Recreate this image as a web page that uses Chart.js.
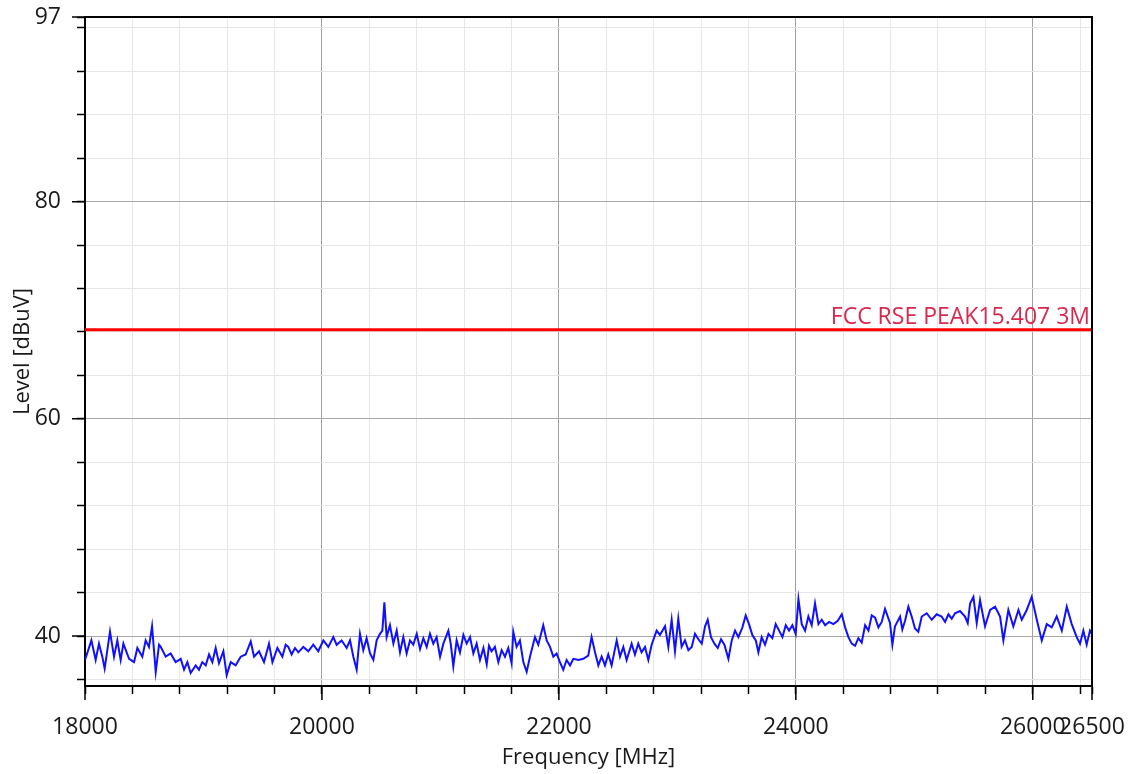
<!DOCTYPE html>
<html><head><meta charset="utf-8">
<script src="https://cdn.jsdelivr.net/npm/chart.js@4.4.0/dist/chart.umd.min.js"></script>
<style>html,body{margin:0;padding:0;background:#fff;} #wrap{width:1132px;height:774px;}</style>
</head><body><div id="wrap"><canvas id="c" width="1132" height="774"></canvas></div>
<script>
const freqs = [
18000,18054,18090,18118,18146,18166,18211,18245,18273,18301,18324,18372,18414,18442,18484,18512,18540,18566,18597,18625,
18639,18681,18723,18765,18808,18836,18864,18892,18934,18962,18990,19019,19047,19075,19103,19131,19168,19196,19230,19272,
19314,19356,19399,19427,19469,19511,19553,19582,19624,19666,19694,19716,19744,19772,19801,19843,19885,19927,19969,20012,
20054,20096,20124,20166,20209,20237,20265,20293,20321,20349,20377,20406,20434,20462,20490,20510,20527,20546,20574,20603,
20631,20659,20687,20715,20743,20771,20800,20828,20856,20884,20912,20940,20968,20997,21025,21067,21087,21109,21137,21165,
21194,21222,21250,21278,21306,21334,21363,21391,21410,21432,21460,21489,21517,21545,21573,21601,21615,21643,21671,21700,
21728,21756,21798,21826,21868,21897,21925,21953,21981,22009,22037,22065,22094,22122,22164,22206,22248,22276,22305,22333,
22361,22389,22417,22445,22488,22516,22544,22572,22614,22642,22670,22698,22727,22755,22783,22825,22853,22896,22924,22952,
22980,23008,23036,23064,23093,23121,23149,23178,23206,23234,23256,23284,23313,23341,23369,23397,23431,23459,23487,23515,
23549,23577,23605,23633,23662,23684,23712,23740,23769,23802,23830,23859,23887,23915,23943,23971,23999,24022,24050,24078,
24106,24134,24162,24191,24219,24247,24281,24317,24354,24388,24416,24444,24472,24500,24528,24556,24585,24613,24641,24669,
24697,24725,24753,24795,24815,24837,24880,24899,24922,24950,24978,25006,25034,25063,25105,25147,25189,25231,25260,25288,
25316,25344,25386,25428,25451,25471,25499,25527,25555,25597,25640,25682,25724,25752,25794,25836,25879,25907,25949,25991,
26034,26076,26118,26160,26202,26245,26287,26329,26371,26399,26427,26455,26483,26500
];
const levels = [
37.8,39.6,37.8,39.3,38.1,37.0,40.4,38.1,39.6,37.8,39.3,37.9,37.6,38.9,38.1,39.6,39.0,40.9,36.7,39.2,
39.0,38.1,38.4,37.6,37.9,36.9,37.6,36.6,37.3,36.9,37.6,37.3,38.3,37.6,38.9,37.5,38.6,36.4,37.6,37.3,
38.1,38.3,39.5,38.1,38.6,37.6,39.3,37.6,38.9,38.1,39.2,39.0,38.3,38.9,38.5,39.0,38.6,39.2,38.6,39.6,
39.0,39.9,39.2,39.6,38.9,39.6,38.1,36.9,40.2,38.7,39.8,38.4,37.8,39.6,40.2,40.5,43.1,39.9,41.0,39.3,
40.5,38.5,39.9,38.4,39.6,39.2,40.2,38.8,39.8,39.0,40.2,39.3,39.9,38.1,39.3,40.5,39.3,37.2,39.6,38.5,
40.1,39.3,39.9,38.4,39.3,37.8,38.9,37.4,39.1,38.6,39.0,37.6,38.7,38.1,38.9,37.5,40.4,39.0,39.6,37.6,
36.7,38.1,39.9,39.2,41.0,39.6,39.0,38.1,38.4,37.6,36.9,37.8,37.3,37.9,37.8,37.9,38.2,39.9,38.5,37.3,
38.1,37.3,38.3,37.3,39.6,38.1,39.0,37.8,39.3,38.3,39.3,38.5,39.0,37.8,39.2,40.5,40.1,40.9,39.0,41.5,
38.6,41.6,39.0,39.6,38.7,39.0,40.2,39.7,39.3,40.9,41.5,39.9,39.3,38.9,39.7,39.2,37.9,39.6,40.5,39.9,
40.8,41.9,41.1,40.1,39.6,38.5,39.9,39.2,40.2,39.8,41.1,40.5,39.9,41.0,40.5,41.0,40.2,43.4,41.1,40.5,
41.8,41.0,43.0,41.1,41.5,41.0,41.3,41.1,41.4,42.0,40.8,39.9,39.3,39.1,39.8,39.4,41.0,40.5,41.9,41.7,
40.8,41.3,42.5,41.2,39.2,40.9,41.8,40.6,41.4,42.7,41.8,40.7,40.4,41.8,42.1,41.5,42.0,41.8,41.3,42.0,
41.6,42.1,42.3,41.8,41.2,43.0,43.6,41.2,43.3,40.9,42.4,42.7,41.8,39.6,42.4,40.9,42.4,41.5,42.4,43.6,
41.5,39.6,41.1,40.8,41.8,40.5,42.7,41.1,39.9,39.3,40.5,39.2,40.5,40.2
];
const limitLabel = 'FCC RSE PEAK15.407 3M';
const limitLevel = 68.2;
const xRange = [18000, 26500];
const yRange = [35.4, 97];
const xTickValues = [18000,18400,18800,19200,19600,20000,20400,20800,21200,21600,22000,22400,22800,23200,23600,24000,24400,24800,25200,25600,26000,26400,26500];
const xLabelValues = [18000,20000,22000,24000,26000,26500];
const yTickValues = [36,40,44,48,52,56,60,64,68,72,76,80,84,88,92,96,97];
const yLabelValues = [40,60,80,97];
const xTitle = 'Frequency [MHz]';
const yTitle = 'Level [dBuV]';

Chart.defaults.font.family = "'Open Sans', sans-serif";
Chart.defaults.color = '#1a1a1a';

const traceData = freqs.map((f, i) => ({x: f, y: levels[i]}));
const limitData = [{x: xRange[0], y: limitLevel}, {x: xRange[1], y: limitLevel}];

const bgPlugin = {
  id: 'bg',
  beforeDraw(chart) {
    const c = chart.ctx;
    c.save(); c.fillStyle = '#fff'; c.fillRect(0, 0, chart.width, chart.height); c.restore();
  }
};
const decoPlugin = {
  id: 'deco',
  afterDraw(chart) {
    const c = chart.ctx, a = chart.chartArea;
    const xs = chart.scales.x, ys = chart.scales.y;
    c.save();
    c.strokeStyle = '#000'; c.lineWidth = 2;
    c.beginPath();
    c.moveTo(a.left, a.top); c.lineTo(a.right, a.top); c.lineTo(a.right, a.bottom);
    c.stroke();
    c.lineWidth = 1.5;
    c.beginPath();
    xLabelValues.forEach(v => { const px = xs.getPixelForValue(v); c.moveTo(px, a.bottom); c.lineTo(px, a.bottom + 14); });
    yLabelValues.forEach(v => { const py = ys.getPixelForValue(v); c.moveTo(a.left, py); c.lineTo(a.left - 13, py); });
    c.stroke();
    const ly = ys.getPixelForValue(limitLevel);
    c.fillStyle = '#d8284e';
    c.font = "23px 'Open Sans', sans-serif";
    c.textAlign = 'right'; c.textBaseline = 'alphabetic';
    c.fillText(limitLabel, a.right - 2, ly - 6);
    c.restore();
  }
};

new Chart(document.getElementById('c'), {
  type: 'line',
  data: {
    datasets: [
      {data: limitData, borderColor: '#ff0000', borderWidth: 3, pointRadius: 0, tension: 0},
      {data: traceData, borderColor: '#1010ff', borderWidth: 2, pointRadius: 0, tension: 0}
    ]
  },
  options: {
    responsive: false,
    animation: false,
    devicePixelRatio: 1,
    layout: {padding: {left: 0, right: 40, top: 17, bottom: 0}},
    plugins: {legend: {display: false}, tooltip: {enabled: false}},
    scales: {
      x: {
        type: 'linear', min: xRange[0], max: xRange[1],
        afterBuildTicks(s) { s.ticks = xTickValues.map(v => ({value: v})); },
        afterFit(s) { s.height = 88; s.paddingLeft = 0; s.paddingRight = 0; },
        ticks: {autoSkip: false, maxRotation: 0, minRotation: 0, padding: 20, color: '#1a1a1a',
          font: {size: 23},
          callback: v => xLabelValues.includes(v) ? String(v) : ''},
        grid: {
          color: c => (c.tick && c.tick.value % 2000 === 0) ? '#a0a0a0' : '#e6e6e6',
          lineWidth: 1, tickColor: '#000', tickLength: 8, tickWidth: 1.5
        },
        border: {color: '#000', width: 2},
        title: {display: true, text: xTitle, font: {size: 22}, color: '#1a1a1a', padding: {top: 0, bottom: 3}}
      },
      y: {
        type: 'linear', min: yRange[0], max: yRange[1],
        afterBuildTicks(s) { s.ticks = yTickValues.map(v => ({value: v})); },
        afterFit(s) { s.width = 85; s.paddingTop = 0; s.paddingBottom = 0; },
        ticks: {autoSkip: false, padding: 16, color: '#1a1a1a', font: {size: 23},
          callback: v => yLabelValues.includes(v) ? String(v) : ''},
        grid: {
          color: c => (c.tick && c.tick.value % 20 === 0) ? '#a8a8a8' : '#e6e6e6',
          lineWidth: 1, tickColor: '#000', tickLength: 8, tickWidth: 1.5
        },
        border: {color: '#000', width: 2},
        title: {display: true, text: yTitle, font: {size: 22}, color: '#1a1a1a', padding: {top: 10, bottom: 0}}
      }
    }
  },
  plugins: [bgPlugin, decoPlugin]
});
</script>
</body></html>
